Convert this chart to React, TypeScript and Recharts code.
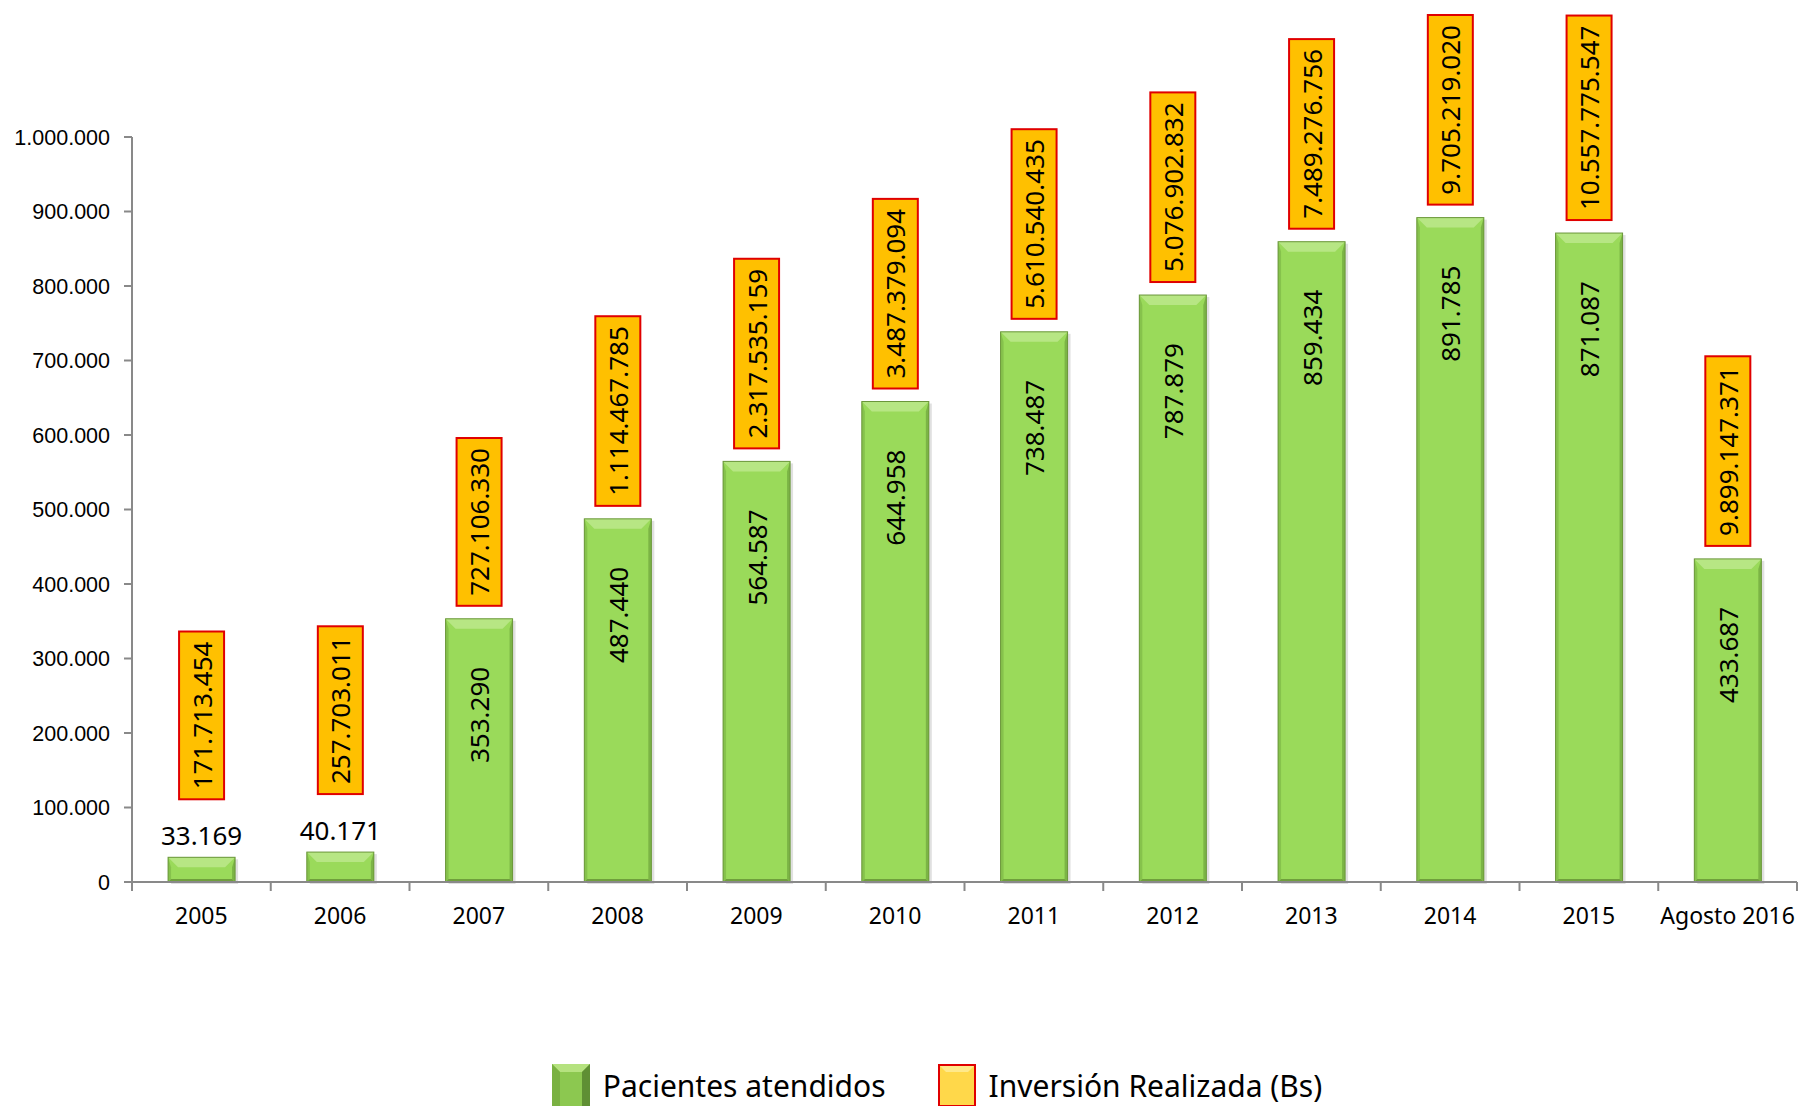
import { BarChart, Bar, XAxis, YAxis, Legend, LabelList } from "recharts";

// datos
const periodos = ["2005", "2006", "2007", "2008", "2009", "2010", "2011", "2012", "2013", "2014", "2015", "Agosto 2016"];
const pacientes = [33169, 40171, 353290, 487440, 564587, 644958, 738487, 787879, 859434, 891785, 871087, 433687];
const inversion = [
    171713454, 257703011, 727106330, 1114467785, 2317535159, 3487379094,
    5610540435, 5076902832, 7489276756, 9705219020, 10557775547, 9899147371,
];
const yTicks = [0, 100000, 200000, 300000, 400000, 500000, 600000, 700000, 800000, 900000, 1000000];
const seriesNames = ["Pacientes atendidos", "Inversión Realizada (Bs)"];

const data = periodos.map((p, i) => ({ periodo: p, pacientes: pacientes[i], inversion: inversion[i] }));

const W = 1800;
const H = 1107;
const PLOT_LEFT = 132;
const PLOT_RIGHT = 1797;
const PLOT_TOP = 137;
const PLOT_BOTTOM = 882;
const X_AXIS_H = 30;
const BAND = (PLOT_RIGHT - PLOT_LEFT) / periodos.length;
const FONT = "'Noto Sans', 'Open Sans', sans-serif";
const LABEL_FS = 26;

const fmt = (v: number) => String(Math.round(v)).replace(/\B(?=(\d{3})+(?!\d))/g, ".");

// ancho aproximado del texto en Noto Sans
const textLen = (s: string, fs: number) =>
    s.split("").reduce((acc, c) => acc + (c === "." ? 0.268 : 0.572) * fs, 0);

const BevelBar = (props: any) => {
    const { x, y, width: w, height: h } = props;
    if (!h || h <= 0) return null;
    const b = Math.min(10, h / 2);
    const s = Math.min(3, w / 4);
    return (
        <g>
            <rect x={x + 3} y={y + 2} width={w} height={h} fill="#000" opacity={0.12} />
            <rect x={x} y={y} width={w} height={h} fill="#9ada5a" />
            <polygon points={`${x},${y} ${x + w},${y} ${x + w - b},${y + b} ${x + b},${y + b}`} fill="#b7e684" />
            <polygon points={`${x},${y} ${x + s},${y + b} ${x + s},${y + h - s} ${x},${y + h}`} fill="#86c24c" />
            <polygon points={`${x + w},${y} ${x + w - s},${y + b} ${x + w - s},${y + h - s} ${x + w},${y + h}`} fill="#7bb445" />
            <polygon points={`${x},${y + h} ${x + s},${y + h - s} ${x + w - s},${y + h - s} ${x + w},${y + h}`} fill="#6f9f3c" />
            <rect x={x} y={y} width={w} height={h} fill="none" stroke="#6b963b" strokeWidth={1} />
        </g>
    );
};

const PacientesLabel = (props: any) => {
    const { x, y, width, value } = props;
    const cx = x + width / 2;
    const txt = fmt(value);
    if (value < 100000) {
        return (
            <text x={cx} y={y - 22} textAnchor="middle" dominantBaseline="central" fontFamily={FONT} fontSize={LABEL_FS} fill="#000">
                {txt}
            </text>
        );
    }
    const len = textLen(txt, LABEL_FS);
    const cy = y + 48 + len / 2;
    return (
        <text x={cx} y={cy} transform={`rotate(-90 ${cx} ${cy})`} textAnchor="middle" dominantBaseline="central" fontFamily={FONT} fontSize={LABEL_FS} fill="#000">
            {txt}
        </text>
    );
};

const InversionLabel = (props: any) => {
    const { x, y, width, index } = props;
    const cx = x + width / 2;
    const txt = fmt(inversion[index]);
    const len = textLen(txt, LABEL_FS);
    const boxH = len + 20;
    const boxW = 45;
    const gap = pacientes[index] < 100000 ? 58 : 13;
    const bottom = y - gap;
    const cy = bottom - boxH / 2;
    return (
        <g>
            <rect x={cx - boxW / 2} y={bottom - boxH} width={boxW} height={boxH} fill="#ffc000" stroke="#e00000" strokeWidth={2} />
            <text x={cx} y={cy} transform={`rotate(-90 ${cx} ${cy})`} textAnchor="middle" dominantBaseline="central" fontFamily={FONT} fontSize={LABEL_FS} fill="#000">
                {txt}
            </text>
        </g>
    );
};

const CategoryTick = (props: any) => {
    const { x, payload, index } = props;
    const axisY = PLOT_BOTTOM;
    const left = x - BAND / 2;
    return (
        <g>
            <line x1={left} y1={axisY} x2={left} y2={axisY + 9} stroke="#898989" strokeWidth={2} />
            {index === periodos.length - 1 && (
                <line x1={x + BAND / 2} y1={axisY} x2={x + BAND / 2} y2={axisY + 9} stroke="#898989" strokeWidth={2} />
            )}
            <text x={x} y={axisY + 33} textAnchor="middle" dominantBaseline="central" fontFamily={FONT} fontSize={23} fill="#000">
                {payload.value}
            </text>
        </g>
    );
};

const Swatch = ({ kind }: { kind: number }) =>
    kind === 0 ? (
        <svg width={40} height={42} style={{ display: "block" }}>
            <rect x={0} y={0} width={38} height={42} fill="#8cc850" />
            <polygon points="0,0 38,0 30,8 8,8" fill="#b5e27f" />
            <polygon points="0,0 8,8 8,42 0,42" fill="#7ab142" />
            <polygon points="38,0 30,8 30,42 38,42" fill="#5f8f34" />
        </svg>
    ) : (
        <svg width={40} height={42} style={{ display: "block" }}>
            <rect x={1} y={1} width={36} height={41} fill="#ffd84a" stroke="#e00000" strokeWidth={2} />
            <polygon points="2,2 36,2 30,8 8,8" fill="#ffe98a" />
        </svg>
    );

const renderLegend = () => (
    <div style={{ display: "flex", justifyContent: "center", alignItems: "center", paddingLeft: 74 }}>
        {seriesNames.map((name, i) => (
            <div key={name} style={{ display: "flex", alignItems: "center", marginRight: i === 0 ? 52 : 0 }}>
                <Swatch kind={i} />
                <span style={{ fontFamily: FONT, fontSize: 30, color: "#000", marginLeft: 11 }}>{name}</span>
            </div>
        ))}
    </div>
);

export default function App() {
    return (
        <div style={{ position: "absolute", left: 0, top: 0, width: W, height: H, background: "#fff", overflow: "hidden" }}>
            <BarChart
                width={W}
                height={H}
                data={data}
                margin={{ top: PLOT_TOP, right: W - PLOT_RIGHT, bottom: H - PLOT_BOTTOM - X_AXIS_H, left: 0 }}
                barCategoryGap="26%"
            >
                <YAxis
                    width={PLOT_LEFT}
                    domain={[0, 1000000]}
                    ticks={yTicks}
                    tickFormatter={fmt}
                    axisLine={{ stroke: "#898989", strokeWidth: 2 }}
                    tickLine={{ stroke: "#898989", strokeWidth: 2 }}
                    tickSize={8}
                    tickMargin={14}
                    tick={{ fontFamily: "'Liberation Sans', Arial, sans-serif", fontSize: 21.5, fill: "#000" }}
                    interval={0}
                />
                <XAxis
                    dataKey="periodo"
                    height={X_AXIS_H}
                    axisLine={{ stroke: "#898989", strokeWidth: 2 }}
                    tickLine={false}
                    tick={<CategoryTick />}
                    interval={0}
                />
                <Legend
                    layout="horizontal"
                    verticalAlign="middle"
                    align="center"
                    content={renderLegend}
                    wrapperStyle={{ position: "absolute", left: 0, top: 1064, width: W }}
                />
                <Bar dataKey="pacientes" name={seriesNames[0]} shape={<BevelBar />} isAnimationActive={false}>
                    <LabelList dataKey="pacientes" content={<PacientesLabel />} />
                    <LabelList dataKey="inversion" content={<InversionLabel />} />
                </Bar>
            </BarChart>
        </div>
    );
}
